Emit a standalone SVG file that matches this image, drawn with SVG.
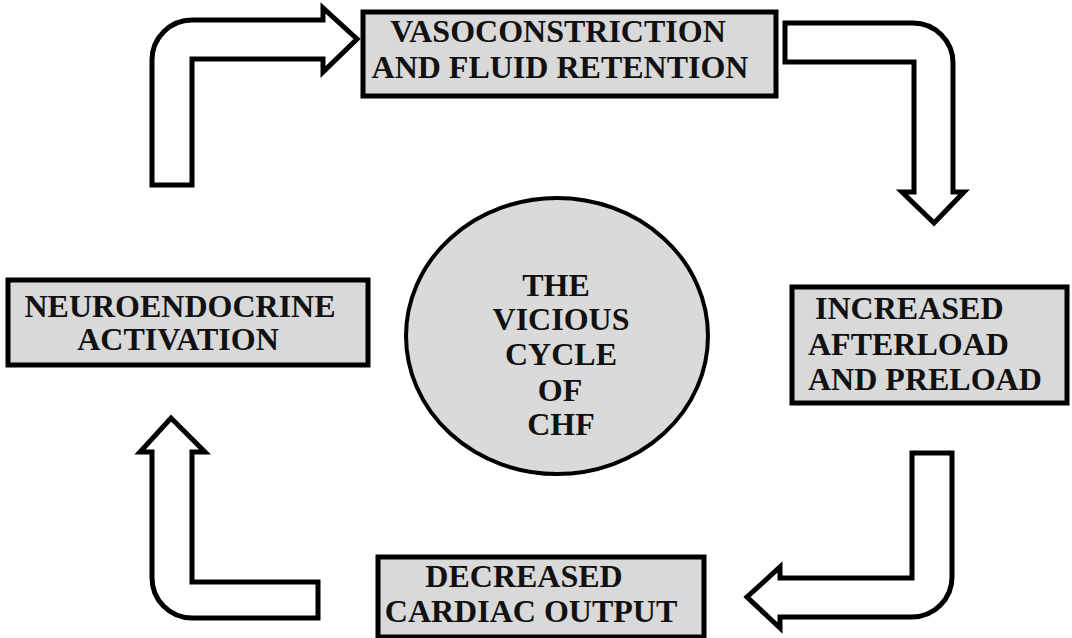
<svg xmlns="http://www.w3.org/2000/svg" width="1072" height="638" viewBox="0 0 1072 638">
<style>
.box{fill:#d9d9d9;stroke:#000;stroke-width:5}
.oval{fill:#dadada;stroke:#000;stroke-width:4}
.arrow{fill:#fff;stroke:#000;stroke-width:5;stroke-linejoin:miter}
.t{font-family:"Liberation Serif","Times New Roman",serif;font-weight:bold;font-size:32px;fill:#111}
.c{text-anchor:middle}
</style>
<rect width="1072" height="638" fill="#fff"/>
<g id="connectors">
<path class="arrow" d="M152,185 L152,60 A40,40 0 0 1 192,20 L323,20 L323,8 L357,39 L323,72 L323,59 L192,59 L192,185 Z"/>
<path class="arrow" d="M785,23 L913,23 A40,40 0 0 1 953,63 L953,192 L964,192 L934,223 L902,192 L914,192 L914,62 L785,62 Z"/>
<path class="arrow" d="M912,453 L952,453 L952,577 A40,40 0 0 1 912,617 L780,617 L780,628 L747,597 L780,567 L780,578 L912,578 Z"/>
<path class="arrow" d="M318,582 L318,618 L192,618 A40,40 0 0 1 152,578 L152,452 L140,452 L171,418 L205,452 L192,452 L192,582 Z"/>
</g>
<g id="center">
<ellipse class="oval" cx="557" cy="336" rx="151" ry="138"/>
<text class="t c" x="556" y="296">THE</text>
<text class="t c" x="561" y="330">VICIOUS</text>
<text class="t c" x="561" y="365">CYCLE</text>
<text class="t c" x="560" y="401">OF</text>
<text class="t c" x="561" y="435">CHF</text>
</g>
<g id="vasoconstriction">
<rect class="box" x="363" y="12" width="413" height="84"/>
<text class="t c" x="558" y="42">VASOCONSTRICTION</text>
<text class="t c" x="560" y="78">AND FLUID RETENTION</text>
</g>
<g id="increased">
<rect class="box" x="792" y="287" width="275" height="116"/>
<text class="t" x="815" y="319">INCREASED</text>
<text class="t" x="808" y="355">AFTERLOAD</text>
<text class="t" x="808" y="390">AND PRELOAD</text>
</g>
<g id="decreased">
<rect class="box" x="378" y="557" width="326" height="80"/>
<text class="t c" x="524" y="587">DECREASED</text>
<text class="t c" x="531" y="622">CARDIAC OUTPUT</text>
</g>
<g id="neuroendocrine">
<rect class="box" x="8" y="280" width="360" height="85"/>
<text class="t c" x="180" y="317">NEUROENDOCRINE</text>
<text class="t c" x="178" y="350">ACTIVATION</text>
</g>
</svg>
